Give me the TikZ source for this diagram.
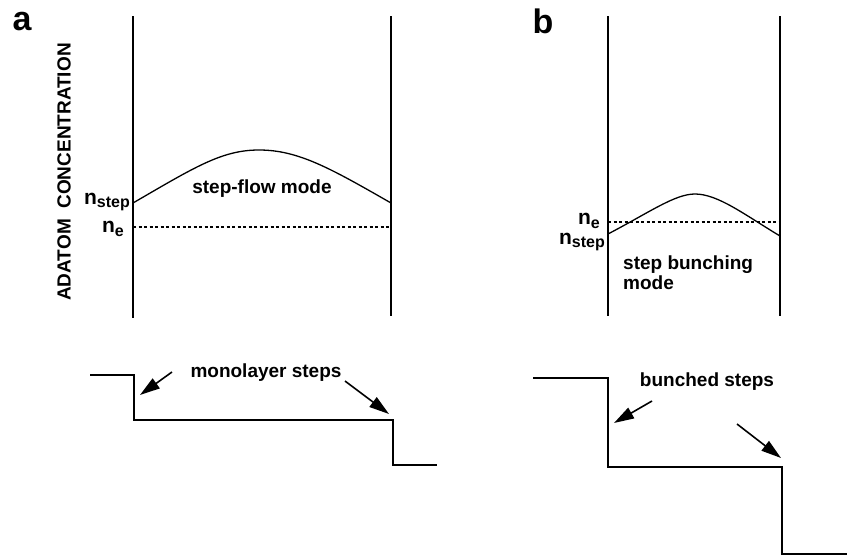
\documentclass[tikz,border=0pt]{standalone}
\usepackage{fontspec}
\setmainfont{Liberation Sans}
\usetikzlibrary{arrows.meta}
\newcommand{\nsub}[1]{n\raisebox{-0.3ex}{\fontsize{16}{16}\selectfont #1}}
\tikzset{
  frameline/.style={line width=1.8pt},
  profile/.style={line width=1.3pt},
  stepline/.style={line width=1.8pt},
  eqline/.style={line width=1.1pt, dash pattern=on 3pt off 2.5pt},
  pointer/.style={line width=1.6pt, -{Triangle[length=20pt,width=12pt]}},
  lbl/.style={font=\fontsize{19}{21}\selectfont\bfseries, inner sep=0pt},
  nlbl/.style={font=\fontsize{21}{22}\selectfont\bfseries, inner sep=0pt},
  panel/.style={font=\fontsize{34}{36}\selectfont\bfseries, inner sep=0pt},
}
\begin{document}
\begin{tikzpicture}[x=1pt,y=-1pt]
\useasboundingbox (0,0) rectangle (847,557);
% ---------- panel a ----------
\node[panel] (pa) at (22,22) {a};
\node[lbl, rotate=90] (ylab) at (64,172) {ADATOM\ \ CONCENTRATION};
\coordinate (aLt) at (133,16); \coordinate (aLb) at (133,318);
\coordinate (aRt) at (391,16); \coordinate (aRb) at (391,316);
\draw[frameline] (aLt) -- (aLb);
\draw[frameline] (aRt) -- (aRb);
\draw[profile] (133,203) .. controls (195,167) and (222,150) .. (259,150)
               .. controls (298,150) and (330,168) .. (391,203);
\draw[eqline] (133,227) -- (391,227);
\node[nlbl, anchor=east] (anstep) at (130,202) {\nsub{step}};
\node[nlbl, anchor=east] (ane) at (124,229) {\nsub{e}};
\node[lbl] (aflow) at (262,189) {step-flow mode};
% lower a
\draw[stepline] (90,375) -- (134,375) -- (134,420) -- (393,420) -- (393,465) -- (437,465);
\node[lbl] (amono) at (266,373) {monolayer steps};
\coordinate (aA1s) at (172,372); \coordinate (aA1e) at (140,395);
\coordinate (aA2s) at (345,381); \coordinate (aA2e) at (389,414);
\draw[pointer] (aA1s) -- (aA1e);
\draw[pointer] (aA2s) -- (aA2e);
% ---------- panel b ----------
\node[panel] (pb) at (543,21) {b};
\coordinate (bLt) at (608,16); \coordinate (bLb) at (608,316);
\coordinate (bRt) at (780,16); \coordinate (bRb) at (780,316);
\draw[frameline] (bLt) -- (bLb);
\draw[frameline] (bRt) -- (bRb);
\draw[profile] (608,234) .. controls (650,212) and (675,194) .. (695,194)
               .. controls (718,194) and (745,215) .. (780,236);
\draw[eqline] (608,222) -- (780,222);
\node[nlbl, anchor=east] (bne) at (600,221) {\nsub{e}};
\node[nlbl, anchor=east] (bnstep) at (605,242) {\nsub{step}};
\node[lbl, anchor=north west, align=left, font=\fontsize{19}{20}\selectfont\bfseries] (bbunch) at (623,256) {step bunching\\mode};
% lower b
\draw[stepline] (533,378) -- (608,378) -- (608,467) -- (782,467) -- (782,554) -- (847,554);
\node[lbl] (bbunched) at (707,382) {bunched steps};
\coordinate (bA1s) at (652,401); \coordinate (bA1e) at (614,423);
\coordinate (bA2s) at (737,424); \coordinate (bA2e) at (781,458);
\draw[pointer] (bA1s) -- (bA1e);
\draw[pointer] (bA2s) -- (bA2e);
\end{tikzpicture}
\end{document}
